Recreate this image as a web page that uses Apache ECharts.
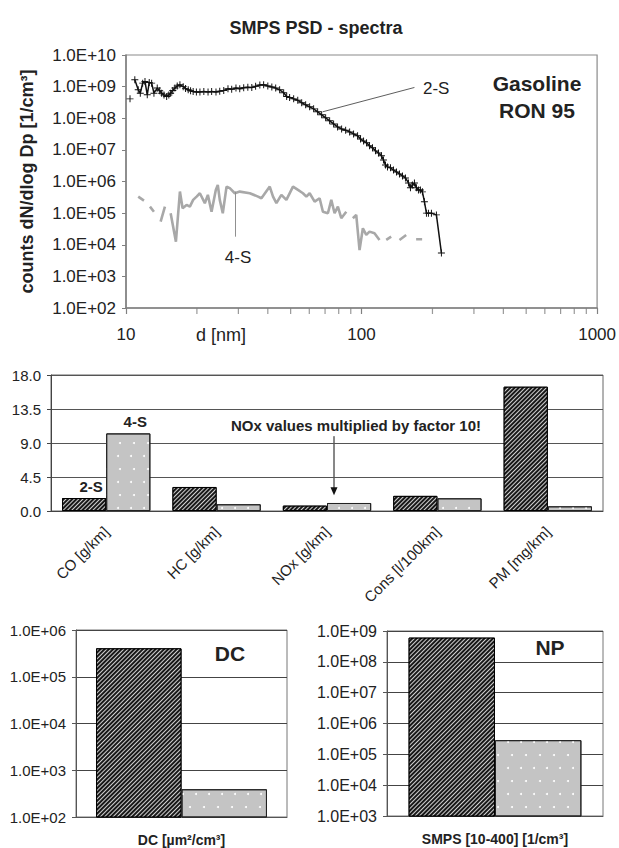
<!DOCTYPE html>
<html><head><meta charset="utf-8">
<script src="https://cdn.jsdelivr.net/npm/echarts@6/dist/echarts.min.js"></script>
<style>html,body{margin:0;padding:0;background:#fff}#c{width:619px;height:848px}</style>
</head><body><div id="c"></div>
<script>
// ---------- DATA ----------
const psdTitle = 'SMPS PSD - spectra';
const psdMinorTicks = [20,30,40,50,60,70,80,90,200,300,400,500,600,700,800,900];
// 2-S spectrum: [d (nm), dN/dlogDp]; null = gap
const psd2S = [
 [10.4,4.1e8], null,
 [10.9,1.64e9],[11.27,7.9e8],[11.5,6.2e8],[11.77,1.29e9],[12.04,1.45e9],[12.31,5.5e8],[12.55,1.35e9],[12.85,1.29e9],
 [13.14,6.2e8],[13.57,9.0e8],[13.9,7.4e8],[14.17,6.2e8],[14.5,5.4e8],[14.88,4.9e8],[15.2,5.4e8],[15.47,6.2e8],
 [15.8,7.6e8],[16.13,9.0e8],[16.5,1.05e9],[16.94,1.14e9],[17.49,1.0e9],[17.9,8.8e8],[18.37,7.9e8],[18.8,7.4e8],
 [19.28,7.0e8],[19.9,6.8e8],[20.6,6.8e8],[21.4,7.0e8],[22.3,6.8e8],[23.1,7.0e8],[24.1,6.8e8],[25.0,7.2e8],
 [26.0,7.6e8],[27.1,8.5e8],[28.1,8.2e8],[29.3,9.0e8],[30.4,8.6e8],[31.6,9.2e8],[32.9,9.6e8],[34.2,9.3e8],
 [35.5,1.02e9],[37.0,1.12e9],[38.4,1.14e9],[40.0,1.04e9],[41.6,9.8e8],[43.2,9.0e8],[44.9,7.9e8],[46.7,6.4e8],
 [48.1,4.9e8],[49.5,4.5e8],[51.5,4.1e8],[53.6,3.7e8],[55.7,3.1e8],[57.9,2.65e8],[60.2,2.3e8],[62.6,1.98e8],
 [65.1,1.6e8],[67.7,1.28e8],[70.4,1.03e8],[73.2,8.3e7],[76.1,6.6e7],[79.1,5.3e7],[82.3,4.6e7],[85.6,4.2e7],
 [89.0,3.7e7],[92.5,3.2e7],[96.2,2.8e7],[99.0,2.2e7],[102.0,1.9e7],[105.0,1.67e7],[108.1,1.34e7],[111.3,1.16e7],
 [114.6,9.3e6],[118.0,8.0e6],[121.5,6.5e6],[123.9,4.8e6],[126.4,3.35e6],[128.9,2.9e6],[132.7,2.7e6],[136.7,2.3e6],
 [140.7,2.0e6],[144.9,1.74e6],[149.2,1.5e6],[153.6,1.3e6],[158.2,9.0e5],[161.3,6.3e5],[164.5,7.8e5],[167.7,9.0e5],
 [171.0,6.3e5],[174.4,5.4e5],[177.8,5.4e5],[181.3,4.7e5],[184.9,2.3e5],[188.6,1.0e5],[192.3,1.0e5],[198.0,1.0e5],
 [207.9,8.8e4],[218.3,5.5e3]
];
// 4-S spectrum
const psd4S = [
 [11.27,3.33e5],[11.92,2.49e5], null,
 [12.64,1.61e5],[13.14,1.11e5], null,
 [14.03,5.4e4],[14.63,1.61e5], null,
 [15.47,9.9e4],[16.29,1.25e4],[16.94,4.8e5],[17.39,1.43e5],[18.08,1.82e5],[18.67,1.61e5],[19.28,2.62e5],[19.94,3.33e5],
 [20.59,4.26e5],[21.61,2.06e5],[22.26,3.77e5],[23.08,1.11e5],[24.06,5.42e5],[24.53,7.8e5],[25.01,2.62e5],[25.76,9.9e4],
 [26.72,6.9e5],[27.58,6.14e5],[28.97,4.26e5],[30.41,4.79e5],[33.54,4.26e5],[36.36,3.33e5],[37.58,2.96e5],[40.76,6.9e5],
 [42.09,3.33e5],[43.51,2.06e5],[45.67,3.77e5],[47.96,2.62e5],[51.16,6.9e5],[53.72,5.42e5],[56.40,4.26e5],[58.30,3.33e5],
 [60.21,4.26e5],[63.22,2.31e5],[66.37,2.96e5],[68.55,1.11e5],[71.97,9.9e4],[74.40,2.62e5],[76.83,9.9e4],[79.35,1.61e5],
 [82.03,6.9e4],[86.14,1.11e5], null,
 [91.87,6.9e4],[94.95,8.8e4],[98.06,6.8e3],[101.3,3.33e4],[104.7,2.04e4],[108.1,2.6e4],[113.5,2.31e4],[119.2,1.42e4], null,
 [127.3,1.42e4],[133.6,1.80e4], null,
 [144.9,1.42e4],[154.7,2.04e4], null,
 [170.5,1.49e4],[180.8,1.49e4]
];
const emisCategories = ['CO [g/km]','HC [g/km]','NOx [g/km]','Cons [l/100km]','PM [mg/km]'];
const emis2S = [1.72, 3.18, 0.71, 2.0, 16.45];
const emis4S = [10.27, 0.89, 1.06, 1.68, 0.62];
const noxArrow = {category:2, from:9.9, to:2.1};
const dcCategory = ['DC [µm²/cm³]'];
const dc2S = [4.06e5];
const dc4S = [392];
const npCategory = ['SMPS [10-400] [1/cm³]'];
const np2S = [6.1e8];
const np4S = [2.88e5];

// ---------- STYLE ----------
const FONT = '"Liberation Sans", Arial, sans-serif';
const TXT = '#222';
function sci(v){ if(!(v>0)) return ''; const e=Math.round(Math.log10(v)); const m=v/Math.pow(10,e); return m.toFixed(1)+'E+'+(e<10?'0':'')+e; }
const plusSym = 'path://M4.3,0H5.7V4.3H10V5.7H5.7V10H4.3V5.7H0V4.3H4.3Z';
const stripeDecal = {symbol:'rect', symbolSize:1, color:'rgba(255,255,255,0.8)', dashArrayX:[1,0], dashArrayY:[0.9,1.7], rotation:-Math.PI/4, maxTileWidth:512, maxTileHeight:512};
const dotDecal = {symbol:'circle', symbolSize:1, color:'#ffffff', dashArrayX:[[2,11],[0,6.5,2,4.5]], dashArrayY:[2,11], rotation:0, maxTileWidth:512, maxTileHeight:512};
const darkBar = {color:'#181818', borderColor:'#000', borderWidth:1, decal:stripeDecal};
const greyBar = {color:'#c4c4c4', borderColor:'#222', borderWidth:1, decal:dotDecal};

const chart = echarts.init(document.getElementById('c'), null, {renderer:'svg'});
const lab = (o)=>Object.assign({color:TXT, fontFamily:FONT}, o);

const option = {
  animation:false,
  backgroundColor:'#fff',
  textStyle:{fontFamily:FONT, color:TXT},
  grid:[
    {left:126, top:55, width:472, height:253, show:true, borderColor:'#8a8a8a', borderWidth:1.2},
    {left:51, top:375, width:552, height:136, show:true, borderColor:'#666', borderWidth:1},
    {left:76, top:630, width:211, height:187, show:true, borderColor:'#777', borderWidth:1},
    {left:387, top:631, width:216, height:185, show:true, borderColor:'#777', borderWidth:1}
  ],
  xAxis:[
    {gridIndex:0, type:'log', logBase:10, min:10, max:1000,
     axisLine:{lineStyle:{color:'#808080', width:1.5}}, axisTick:{length:6, lineStyle:{color:'#808080', width:1.2}},
     axisLabel:lab({fontSize:17, margin:18, formatter:(v)=>String(Math.round(v))}), splitLine:{show:false}},
    {gridIndex:1, type:'category', data:emisCategories,
     axisLine:{lineStyle:{color:'#444'}}, axisTick:{length:5, alignWithLabel:false, lineStyle:{color:'#444'}},
     axisLabel:lab({rotate:45, fontSize:15, margin:18, interval:0})},
    {gridIndex:2, type:'category', data:dcCategory,
     axisLine:{lineStyle:{color:'#555'}}, axisTick:{length:4, lineStyle:{color:'#555'}},
     axisLabel:lab({fontSize:14, fontWeight:'bold', margin:16})},
    {gridIndex:3, type:'category', data:npCategory,
     axisLine:{lineStyle:{color:'#555'}}, axisTick:{length:4, lineStyle:{color:'#555'}},
     axisLabel:lab({fontSize:14, fontWeight:'bold', margin:16})}
  ],
  yAxis:[
    {gridIndex:0, type:'log', logBase:10, min:1e2, max:1e10,
     name:'counts dN/dlog Dp [1/cm³]', nameLocation:'middle', nameRotate:90, nameGap:90,
     nameTextStyle:lab({fontSize:18, fontWeight:'bold'}),
     axisLine:{show:true, lineStyle:{color:'#808080', width:1.5}}, axisTick:{show:true, length:4, lineStyle:{color:'#808080'}},
     axisLabel:lab({fontSize:17, margin:10, formatter:sci}), splitLine:{show:false}},
    {gridIndex:1, type:'value', min:0, max:18, interval:4.5,
     axisLine:{show:true, lineStyle:{color:'#444'}}, axisTick:{show:true, length:4, lineStyle:{color:'#444'}},
     axisLabel:lab({fontSize:15, margin:10, formatter:(v)=>v.toFixed(1)}),
     splitLine:{show:true, lineStyle:{color:'#555', width:1}}},
    {gridIndex:2, type:'log', logBase:10, min:1e2, max:1e6,
     axisLine:{show:true, lineStyle:{color:'#555'}}, axisTick:{show:true, length:4, lineStyle:{color:'#555'}},
     axisLabel:lab({fontSize:15, margin:10, formatter:sci}),
     splitLine:{show:true, lineStyle:{color:'#444', width:1.2}}},
    {gridIndex:3, type:'log', logBase:10, min:1e3, max:1e9,
     axisLine:{show:true, lineStyle:{color:'#555'}}, axisTick:{show:true, length:4, lineStyle:{color:'#555'}},
     axisLabel:lab({fontSize:16, margin:10, formatter:sci}),
     splitLine:{show:true, lineStyle:{color:'#444', width:1.2}}}
  ],
  series:[
    {type:'scatter', name:'minor ticks', xAxisIndex:0, yAxisIndex:0, silent:true, clip:false,
     data:psdMinorTicks.map(d=>[d,1e2]), symbol:'rect', symbolSize:[1.2,6], symbolOffset:[0,3],
     itemStyle:{color:'#808080'}, z:1},
    {type:'line', name:'4-S', xAxisIndex:0, yAxisIndex:0, data:psd4S, connectNulls:false,
     symbol:'none', lineStyle:{color:'#a8a8a8', width:2.6}, z:2,
     markLine:{silent:true, symbol:['none','none'], label:{show:false},
       lineStyle:{color:'#909090', width:1, type:'solid'},
       data:[[{coord:[28.97,4.8e5]},{coord:[28.97,1.8e4]}]]}},
    {type:'line', name:'2-S', xAxisIndex:0, yAxisIndex:0, data:psd2S, connectNulls:false,
     symbol:plusSym, symbolSize:7, showSymbol:true, showAllSymbol:true,
     itemStyle:{color:'#111', borderWidth:0}, lineStyle:{color:'#111', width:1.5}, z:3,
     markLine:{silent:true, symbol:['none','none'], label:{show:false},
       lineStyle:{color:'#333', width:0.8, type:'solid'},
       data:[[{coord:[68.4,1.6e8]},{coord:[167.7,9.4e8]}]]}},
    {type:'bar', name:'2-S', xAxisIndex:1, yAxisIndex:1, barGap:'0%', barCategoryGap:'20%',
     data:emis2S.map((v,i)=> i===0 ? {value:v, label:{show:true}} : v),
     itemStyle:darkBar,
     label:{show:false, position:'top', distance:4, offset:[7,0], formatter:'{a}', fontSize:15, fontWeight:'bold', color:TXT, fontFamily:FONT}},
    {type:'bar', name:'4-S', xAxisIndex:1, yAxisIndex:1, barGap:'0%', barCategoryGap:'20%',
     data:emis4S.map((v,i)=> i===0 ? {value:v, label:{show:true}} : v),
     itemStyle:greyBar,
     label:{show:false, position:'top', distance:4, offset:[7,0], formatter:'{a}', fontSize:15, fontWeight:'bold', color:TXT, fontFamily:FONT}},
    {type:'bar', name:'2-S', xAxisIndex:2, yAxisIndex:2, barGap:'0%', barCategoryGap:'19%', clip:true,
     data:dc2S, itemStyle:darkBar},
    {type:'bar', name:'4-S', xAxisIndex:2, yAxisIndex:2, barGap:'0%', barCategoryGap:'19%', clip:true,
     data:dc4S, itemStyle:greyBar},
    {type:'bar', name:'2-S', xAxisIndex:3, yAxisIndex:3, barGap:'0%', barCategoryGap:'20%', clip:true,
     data:np2S, itemStyle:darkBar},
    {type:'bar', name:'4-S', xAxisIndex:3, yAxisIndex:3, barGap:'0%', barCategoryGap:'20%', clip:true,
     data:np4S, itemStyle:greyBar}
  ],
  graphic:{elements:[
    {type:'text', x:316, y:28, silent:true, style:{text:psdTitle, fontSize:18, fontWeight:'bold', fontFamily:FONT, fill:TXT, align:'center', verticalAlign:'middle'}},
    {type:'text', x:537, y:83, silent:true, style:{text:'Gasoline', fontSize:21, fontWeight:'bold', fontFamily:FONT, fill:TXT, align:'center', verticalAlign:'middle'}},
    {type:'text', x:537, y:110, silent:true, style:{text:'RON 95', fontSize:21, fontWeight:'bold', fontFamily:FONT, fill:TXT, align:'center', verticalAlign:'middle'}},
    {type:'text', x:423, y:88, silent:true, style:{text:'2-S', fontSize:17, fontFamily:FONT, fill:TXT, align:'left', verticalAlign:'middle'}},
    {type:'text', x:238, y:257, silent:true, style:{text:'4-S', fontSize:17, fontFamily:FONT, fill:TXT, align:'center', verticalAlign:'middle'}},
    {type:'text', x:221, y:335, silent:true, style:{text:'d [nm]', fontSize:18, fontFamily:FONT, fill:TXT, align:'center', verticalAlign:'middle'}},
    {type:'text', x:356, y:425, silent:true, style:{text:'NOx values multiplied by factor 10!', fontSize:15, fontWeight:'bold', fontFamily:FONT, fill:TXT, align:'center', verticalAlign:'middle'}},
    {type:'text', x:230, y:653, silent:true, style:{text:'DC', fontSize:21, fontWeight:'bold', fontFamily:FONT, fill:TXT, align:'center', verticalAlign:'middle'}},
    {type:'text', x:550, y:647, silent:true, style:{text:'NP', fontSize:21, fontWeight:'bold', fontFamily:FONT, fill:TXT, align:'center', verticalAlign:'middle'}}
  ]}
};
chart.setOption(option);

// NOx annotation arrow, placed through the bar chart's own axes (slightly right of the category centre)
const pTop = chart.convertToPixel({xAxisIndex:1, yAxisIndex:1}, [noxArrow.category, noxArrow.from]);
const pTip = chart.convertToPixel({xAxisIndex:1, yAxisIndex:1}, [noxArrow.category, noxArrow.to]);
const ax = pTop[0] + 7;
chart.setOption({graphic:{elements:[
  {type:'line', id:'noxArrowLine', silent:true, shape:{x1:ax, y1:pTop[1], x2:ax, y2:pTip[1]-7}, style:{stroke:'#111', lineWidth:1}},
  {type:'polygon', id:'noxArrowHead', silent:true, shape:{points:[[ax-3.5,pTip[1]-8],[ax+3.5,pTip[1]-8],[ax,pTip[1]]]}, style:{fill:'#111'}}
]}});
</script>
</body></html>
